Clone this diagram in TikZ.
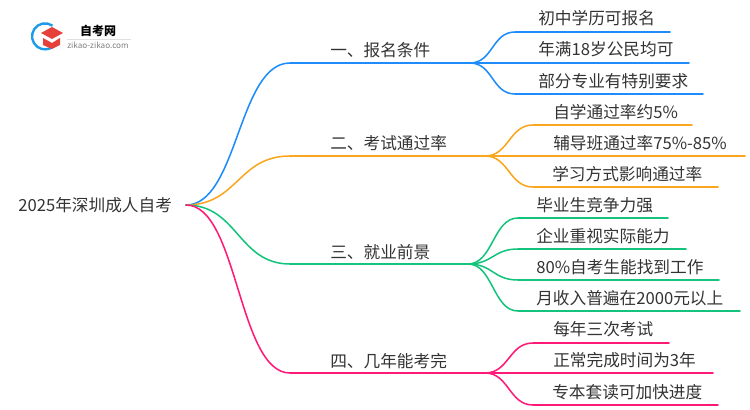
\documentclass[tikz,border=0pt]{standalone}
\usepackage{fontspec}
\setmainfont{Noto Sans CJK SC}
\definecolor{blueline}{HTML}{1E8CFA}
\definecolor{orangeline}{HTML}{FAA61E}
\definecolor{greenline}{HTML}{14C47C}
\definecolor{pinkline}{HTML}{FF1A78}
\definecolor{inktext}{HTML}{333333}
\definecolor{logored}{HTML}{E5403A}
\definecolor{logoblue}{HTML}{1E9BE8}
\tikzset{
	txt/.style={anchor=west,inner sep=0pt,text=inktext,font=\fontsize{12.5}{14}\selectfont},
	branch/.style={line width=1.15pt,line cap=round},
}

\begin{document}
\begin{tikzpicture}[x=.75pt,y=-.75pt]
	\useasboundingbox (0,0) rectangle (750,410);
	% logo
	\draw[line width=1.8pt,color=logoblue] (52.5,25.7) arc (-55:-311:13);
	\fill[logored] (52,27) -- (63,33) -- (52,39) -- (41,33) -- cycle;
	\fill[logored] (43,38) -- (52,43) -- (60,38) -- (60,45) -- (52,49) -- (43,45) -- cycle;
	\node (logotitle) at (98,31) {\fontsize{9}{10}\selectfont\bfseries 自考网};
	\node (logourl) at (98,45) {\fontsize{6.1}{7}\selectfont\color{gray} zikao-zikao.com};
	\draw[black!12,line width=.4pt] (67,39) -- (131,39);
	% main text
	\node[txt] (root) at (18,205) {2025年深圳成人自考};
	\node[txt] (t1) at (330,50) {一、报名条件};
	\node[txt] (t2) at (330,143) {二、考试通过率};
	\node[txt] (t3) at (330,252) {三、就业前景};
	\node[txt] (t4) at (330,361) {四、几年能考完};
	\node[txt] (t11) at (538,18) {初中学历可报名};
	\node[txt] (t12) at (538,49) {年满18岁公民均可};
	\node[txt] (t13) at (538,81) {部分专业有特别要求};
	\node[txt] (t21) at (553,112) {自学通过率约5\%};
	\node[txt] (t22) at (553,143) {辅导班通过率75\%-85\%};
	\node[txt] (t23) at (552,174) {学习方式影响通过率};
	\node[txt] (t31) at (536,205) {毕业生竞争力强};
	\node[txt] (t32) at (536,236) {企业重视实际能力};
	\node[txt] (t33) at (536,267) {80\%自考生能找到工作};
	\node[txt] (t34) at (536,298) {月收入普遍在2000元以上};
	\node[txt] (t41) at (553,329) {每年三次考试};
	\node[txt] (t42) at (553,360) {正常完成时间为3年};
	\node[txt] (t43) at (552,392) {专本套读可加快进度};
	% joints
	\coordinate (start) at (186,205);
	\coordinate (b1) at (290,63);
	\coordinate (f1) at (470,63);
	\coordinate (b2) at (290,156);
	\coordinate (f2) at (485,156);
	\coordinate (b3) at (290,264);
	\coordinate (f3) at (468,264);
	\coordinate (b4) at (290,373);
	\coordinate (f4) at (485,373);
	% blue
	\draw[branch,blueline] (start) .. controls +(52,0) and +(-52,0) .. (b1) -- (f1);
	\draw[branch,blueline] (f1) .. controls +(23,0) and +(-23,0) .. (515,32) -- (670,32);
	\draw[branch,blueline] (f1) -- (689,63);
	\draw[branch,blueline] (f1) .. controls +(23,0) and +(-23,0) .. (515,94) -- (703,94);
	% orange
	\draw[branch,orangeline] (start) .. controls +(52,0) and +(-52,0) .. (b2) -- (f2);
	\draw[branch,orangeline] (f2) .. controls +(24,0) and +(-24,0) .. (533,125) -- (692,125);
	\draw[branch,orangeline] (f2) -- (745,156);
	\draw[branch,orangeline] (f2) .. controls +(24,0) and +(-24,0) .. (533,187) -- (718,187);
	% green
	\draw[branch,greenline] (start) .. controls +(52,0) and +(-52,0) .. (b3) -- (f3);
	\draw[branch,greenline] (f3) .. controls +(25,0) and +(-25,0) .. (518,218) -- (668,218);
	\draw[branch,greenline] (f3) .. controls +(25,0) and +(-25,0) .. (518,249) -- (686,249);
	\draw[branch,greenline] (f3) .. controls +(25,0) and +(-25,0) .. (518,280) -- (719,280);
	\draw[branch,greenline] (f3) .. controls +(25,0) and +(-25,0) .. (518,311) -- (740,311);
	% pink
	\draw[branch,pinkline] (start) .. controls +(52,0) and +(-52,0) .. (b4) -- (f4);
	\draw[branch,pinkline] (f4) .. controls +(24,0) and +(-24,0) .. (533,343) -- (669,343);
	\draw[branch,pinkline] (f4) -- (713,373);
	\draw[branch,pinkline] (f4) .. controls +(24,0) and +(-24,0) .. (533,405) -- (718,405);
\end{tikzpicture}
\end{document}
